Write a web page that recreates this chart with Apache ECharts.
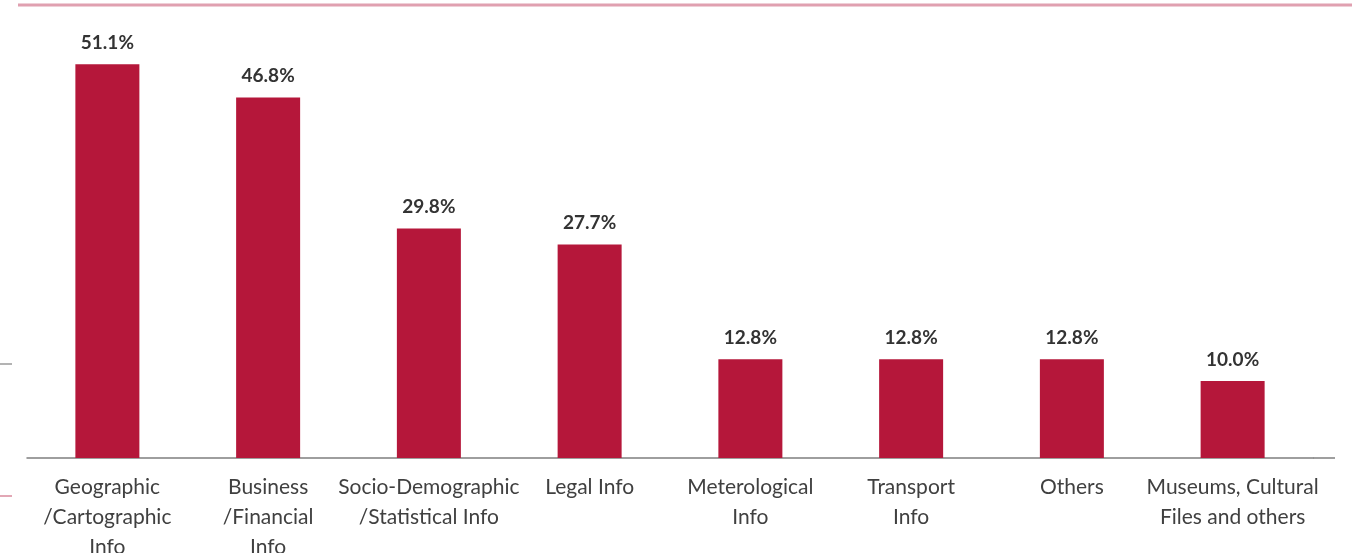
<!DOCTYPE html>
<html>
<head>
<meta charset="utf-8">
<script src="https://cdn.jsdelivr.net/npm/echarts@6/dist/echarts.min.js"></script>
<style>
html,body{margin:0;padding:0;background:#fff;}
#chart{width:1352px;height:553px;}
</style>
</head>
<body>
<div id="chart"></div>
<script>
const categories = [
  "Geographic\n/Cartographic\nInfo",
  "Business\n/Financial\nInfo",
  "Socio-Demographic\n/Statistical Info",
  "Legal Info",
  "Meterological\nInfo",
  "Transport\nInfo",
  "Others",
  "Museums, Cultural\nFiles and others"
];
const values = [51.1, 46.8, 29.8, 27.7, 12.8, 12.8, 12.8, 10.0];

const chart = echarts.init(document.getElementById('chart'));
chart.setOption({
  animation: false,
  backgroundColor: '#ffffff',
  grid: { left: 27, width: 1286, top: 8, bottom: 95, outerBoundsMode: 'none', containLabel: false },
  xAxis: {
    type: 'category',
    data: categories,
    axisLine: { lineStyle: { color: '#7f7f7f', width: 1.5 } },
    axisTick: { show: false },
    axisLabel: {
      interval: 0,
      margin: 14,
      color: '#404040',
      fontFamily: 'Lato',
      fontSize: 21,
      lineHeight: 30
    }
  },
  yAxis: {
    type: 'value',
    min: 0,
    max: 58.4,
    show: false,
    splitLine: { show: false }
  },
  series: [{
    type: 'bar',
    data: values,
    barWidth: 64,
    itemStyle: { color: '#b5173a' },
    label: {
      show: true,
      position: 'top',
      distance: 12,
      formatter: p => p.value.toFixed(1) + '%',
      color: '#333333',
      fontFamily: 'Lato',
      fontWeight: 'bold',
      fontSize: 19
    }
  }],
  graphic: [
    { type: 'line', shape: { x1: 18, y1: 5, x2: 1352, y2: 5 }, style: { stroke: '#e0a0b0', lineWidth: 3 } },
    { type: 'line', shape: { x1: 1313, y1: 458, x2: 1335, y2: 458 }, style: { stroke: '#7f7f7f', lineWidth: 1.5 } },
    { type: 'line', shape: { x1: 0, y1: 364, x2: 12, y2: 364 }, style: { stroke: '#9a9a9a', lineWidth: 1.5 } },
    { type: 'line', shape: { x1: 0, y1: 496, x2: 12, y2: 496 }, style: { stroke: '#d98a9c', lineWidth: 1.5 } }
  ]
});
</script>
</body>
</html>
